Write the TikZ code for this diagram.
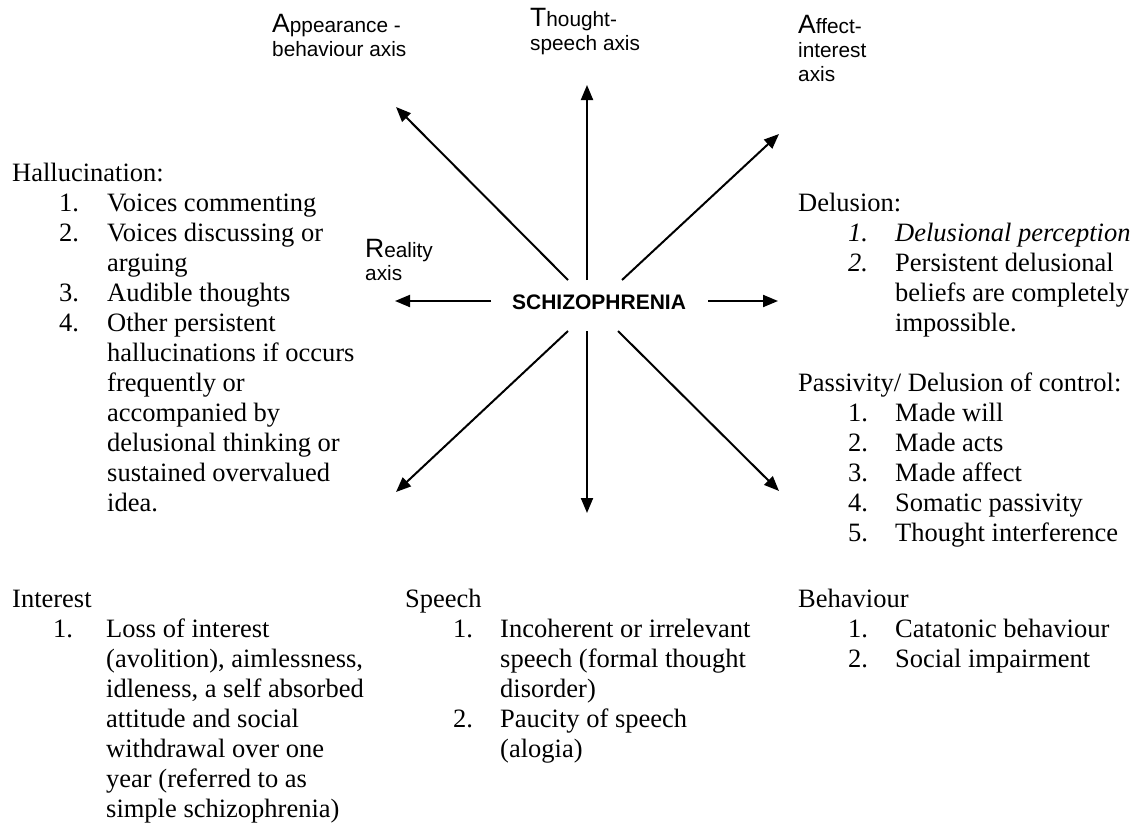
\documentclass[tikz,border=0pt]{standalone}
\usepackage{fontspec}
\setmainfont{Liberation Serif}
\newfontfamily\arialf{Liberation Sans}
\usetikzlibrary{arrows.meta}
\newcommand\tl[4]{\node[txt] (#1) at (#2,#3) {#4};}
\newcommand\al[4]{\node[ax] (#1) at (#2,#3) {#4};}
\newcommand\bigini[1]{{\fontsize{26.5}{24}\selectfont #1}}
\begin{document}
\begin{tikzpicture}[x=1pt,y=-1pt,
  txt/.style={anchor=base west,inner sep=0pt,font=\fontsize{26.5}{30}\selectfont},
  ax/.style={anchor=base west,inner sep=0pt,font=\arialf\fontsize{20.8}{24}\selectfont},
  arr/.style={line width=2pt,-{Triangle[length=15pt,width=12pt]}}]
\useasboundingbox (0,0) rectangle (1134,827);

% axis labels
\al{ap1}{272}{32}{\bigini{A}ppearance -}
\al{ap2}{272}{56}{behaviour axis}
\al{th1}{530}{27}{\bigini{T}hought-}
\al{th2}{530}{50}{speech axis}
\al{af1}{798}{33}{\bigini{A}ffect-}
\al{af2}{798}{57}{interest}
\al{af3}{798}{81}{axis}
\al{re1}{365}{257}{\bigini{R}eality}
\al{re2}{365}{280}{axis}

% centre
\node[font=\arialf\bfseries\fontsize{21}{21}\selectfont,inner sep=0pt] (c) at (599,302) {SCHIZOPHRENIA};

% arrow end points
\coordinate (tU) at (587,280);  \coordinate (hU) at (587,85);
\coordinate (tNW) at (568,280); \coordinate (hNW) at (396,107);
\coordinate (tNE) at (622,280); \coordinate (hNE) at (779,134);
\coordinate (tL) at (491,301);  \coordinate (hL) at (395,301);
\coordinate (tR) at (708,301);  \coordinate (hR) at (778,301);
\coordinate (tD) at (587,331);  \coordinate (hD) at (587,513);
\coordinate (tSW) at (568,331); \coordinate (hSW) at (396,492);
\coordinate (tSE) at (618,331); \coordinate (hSE) at (779,491);
\foreach \a in {U,NW,NE,L,R,D,SW,SE} \draw[arr] (t\a) -- (h\a);

% Hallucination
\tl{h0}{12}{181}{Hallucination:}
\tl{h1n}{59}{211}{1.}\tl{h1}{107}{211}{Voices commenting}
\tl{h2n}{59}{241}{2.}\tl{h2}{107}{241}{Voices discussing or}
\tl{h3}{107}{271}{arguing}
\tl{h4n}{59}{301}{3.}\tl{h4}{107}{301}{Audible thoughts}
\tl{h5n}{59}{331}{4.}\tl{h5}{107}{331}{Other persistent}
\tl{h6}{107}{361}{hallucinations if occurs}
\tl{h7}{107}{391}{frequently or}
\tl{h8}{107}{421}{accompanied by}
\tl{h9}{107}{451}{delusional thinking or}
\tl{h10}{107}{481}{sustained overvalued}
\tl{h11}{107}{511}{idea.}

% Delusion
\tl{d0}{798}{211}{Delusion:}
\tl{d1n}{848}{241}{\textit{1.}}\tl{d1}{895}{241}{\textit{Delusional perception}}
\tl{d2n}{848}{271}{\textit{2.}}\tl{d2}{895}{271}{Persistent delusional}
\tl{d3}{895}{301}{beliefs are completely}
\tl{d4}{895}{331}{impossible.}

% Passivity
\tl{p0}{798}{391}{Passivity/ Delusion of control:}
\tl{p1n}{848}{421}{1.}\tl{p1}{895}{421}{Made will}
\tl{p2n}{848}{451}{2.}\tl{p2}{895}{451}{Made acts}
\tl{p3n}{848}{481}{3.}\tl{p3}{895}{481}{Made affect}
\tl{p4n}{848}{511}{4.}\tl{p4}{895}{511}{Somatic passivity}
\tl{p5n}{848}{541}{5.}\tl{p5}{895}{541}{Thought interference}

% Behaviour
\tl{b0}{798}{607}{Behaviour}
\tl{b1n}{848}{637}{1.}\tl{b1}{895}{637}{Catatonic behaviour}
\tl{b2n}{848}{667}{2.}\tl{b2}{895}{667}{Social impairment}

% Interest
\tl{i0}{12}{607}{Interest}
\tl{i1n}{53}{637}{1.}\tl{i1}{106}{637}{Loss of interest}
\tl{i2}{106}{667}{(avolition), aimlessness,}
\tl{i3}{106}{697}{idleness, a self absorbed}
\tl{i4}{106}{727}{attitude and social}
\tl{i5}{106}{757}{withdrawal over one}
\tl{i6}{106}{787}{year (referred to as}
\tl{i7}{106}{817}{simple schizophrenia)}

% Speech
\tl{s0}{405}{607}{Speech}
\tl{s1n}{453}{637}{1.}\tl{s1}{500}{637}{Incoherent or irrelevant}
\tl{s2}{500}{667}{speech (formal thought}
\tl{s3}{500}{697}{disorder)}
\tl{s4n}{453}{727}{2.}\tl{s4}{500}{727}{Paucity of speech}
\tl{s5}{500}{757}{(alogia)}
\end{tikzpicture}
\end{document}
